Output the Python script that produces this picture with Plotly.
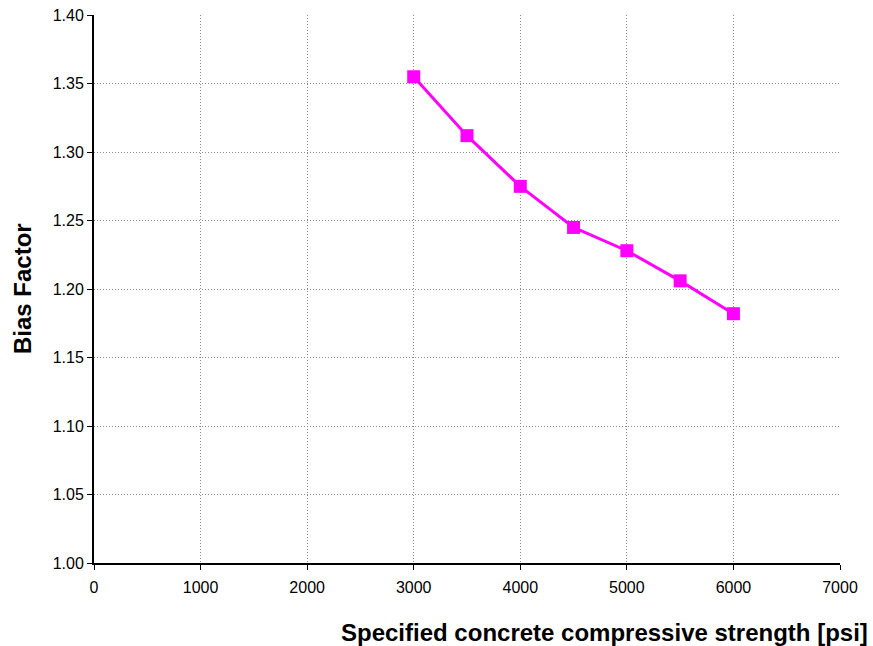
import plotly.graph_objects as go

strength_psi = [3000, 3500, 4000, 4500, 5000, 5500, 6000]
bias_factor = [1.355, 1.312, 1.275, 1.245, 1.228, 1.206, 1.182]

x_ticks = [0, 1000, 2000, 3000, 4000, 5000, 6000, 7000]
y_ticks = [1.00, 1.05, 1.10, 1.15, 1.20, 1.25, 1.30, 1.35, 1.40]

fig = go.Figure()
fig.add_trace(go.Scatter(
    x=strength_psi, y=bias_factor, mode="lines+markers",
    line=dict(color="#FF00FF", width=3),
    marker=dict(symbol="square", size=13, color="#FF00FF"),
    showlegend=False, cliponaxis=False,
))

font = "Liberation Sans, Arial, sans-serif"
axis_common = dict(
    showgrid=True, gridcolor="#8c8c8c", griddash="1px,2px", gridwidth=1,
    showline=True, linecolor="black", linewidth=2,
    ticks="outside", ticklen=5, tickcolor="black", tickwidth=1,
    zeroline=False, tickfont=dict(size=16, family=font), automargin=False,
)
fig.update_layout(
    width=873, height=646,
    margin=dict(l=94, r=33, t=15, b=83, autoexpand=False),
    paper_bgcolor="white", plot_bgcolor="white",
    font=dict(family=font, size=16, color="black"),
    xaxis=dict(range=[0, 7000], tickvals=x_ticks, ticktext=[str(v) for v in x_ticks],
               ticklabelstandoff=4, **axis_common),
    yaxis=dict(range=[1.0, 1.4001], tickvals=y_ticks, ticktext=[f"{v:.2f}" for v in y_ticks],
               **axis_common),
    annotations=[
        dict(text="<b>Specified concrete compressive strength [psi]</b>",
             xref="paper", yref="paper", x=1.0, y=0, xanchor="right", yanchor="middle",
             xshift=30, yshift=-69, showarrow=False, font=dict(size=24, family=font)),
        dict(text="<b>Bias Factor</b>", xref="paper", yref="paper", x=0, y=0.5,
             xanchor="center", yanchor="middle",
             xshift=-72, textangle=-90, showarrow=False, font=dict(size=24, family=font)),
    ],
)

fig.write_html("out.html", config={"displayModeBar": False},
               post_script="document.body.style.margin='0';")
